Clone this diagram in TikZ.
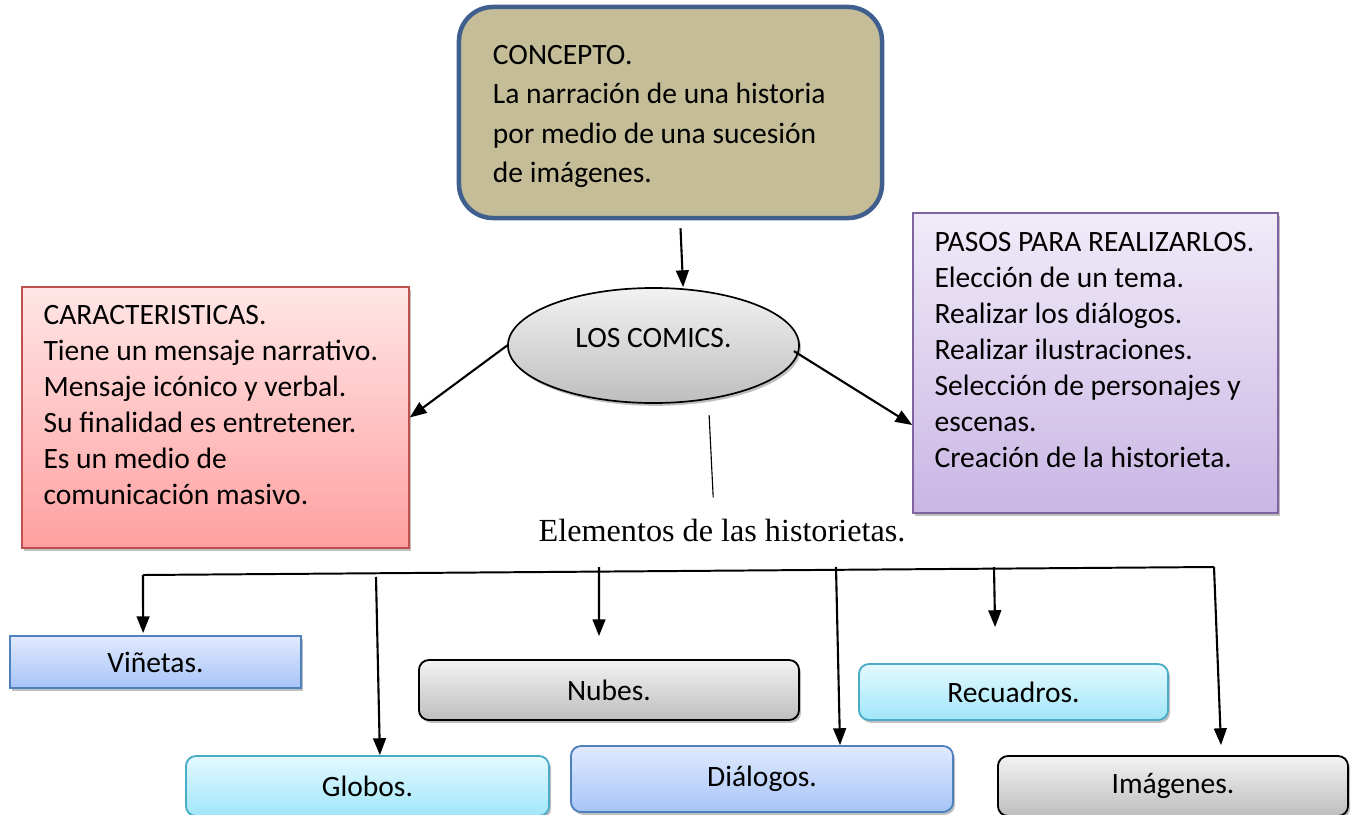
\documentclass[tikz,border=0pt]{standalone}
\usepackage{fontspec}
\setmainfont{Carlito}
\newfontfamily\elemfont{Liberation Serif}
\usepackage{xcolor}
\usepackage{tikz}
\usetikzlibrary{shapes.geometric, arrows.meta, positioning, shadows}

\definecolor{conceptfill}{RGB}{196,189,151}
\definecolor{conceptline}{RGB}{63,96,143}
\definecolor{redline}{RGB}{192,80,77}
\definecolor{redtop}{RGB}{255,230,230}
\definecolor{redbot}{RGB}{255,160,160}
\definecolor{purpleline}{RGB}{128,100,162}
\definecolor{purpletop}{RGB}{241,235,249}
\definecolor{purplebot}{RGB}{201,182,228}
\definecolor{blueline}{RGB}{79,129,189}
\definecolor{bluetop}{RGB}{224,234,255}
\definecolor{bluebot}{RGB}{167,196,247}
\definecolor{cyanline}{RGB}{75,172,198}
\definecolor{cyantop}{RGB}{228,249,255}
\definecolor{cyanbot}{RGB}{160,230,250}
\definecolor{graytop}{RGB}{242,242,242}
\definecolor{graybot}{RGB}{190,190,190}

\tikzset{
    softshadow/.style={drop shadow={shadow xshift=0.05cm, shadow yshift=-0.07cm, opacity=0.25, fill=black}},
    concept/.style={rectangle, rounded corners=0.85cm, draw=conceptline, line width=3.2pt, fill=conceptfill, minimum width=10.575cm, minimum height=5.275cm, text width=8.875cm, inner xsep=0.85cm, align=flush left, font=\fontsize{21}{28}\selectfont},
    comics/.style={ellipse, draw=black, line width=1.2pt, top color=graytop, bottom color=graybot, minimum width=7.275cm, minimum height=2.875cm, inner sep=0pt, softshadow, font=\fontsize{21}{24}\selectfont},
    sidebox/.style={rectangle, draw=#1line, line width=1pt, top color=#1top, bottom color=#1bot, softshadow},
    boxtext/.style={inner sep=0pt, anchor=north west, align=flush left, font=\fontsize{21}{25.6}\selectfont},
    item/.style={rectangle, draw=#1line, line width=1.3pt, top color=#1top, bottom color=#1bot, softshadow, inner sep=0pt, font=\fontsize{21}{24}\selectfont},
    grayitem/.style={rectangle, rounded corners=0.25cm, draw=black, line width=1.3pt, top color=graytop, bottom color=graybot, softshadow, inner sep=0pt, font=\fontsize{21}{24}\selectfont},
    arrow/.style={line width=1.5pt, -{Triangle[length=0.42cm, width=0.32cm]}},
    bar/.style={line width=1.4pt}
}

\begin{document}
\begin{tikzpicture}[x=0.025cm, y=-0.025cm]
    \path[use as bounding box] (0,0) rectangle (1357,815);

    % Concept and central topic
    \node[concept] (concepto) at (670.5,112.5) {\rule{0pt}{0.68cm}CONCEPTO.\\La narración de una historia\\por medio de una sucesión\\de imágenes.};
    \node[comics] (comics) at (653.5,345.5) {\raisebox{0.4cm}{LOS COMICS.}};

    % Side boxes
    \node[sidebox=red, minimum width=9.675cm, minimum height=6.525cm] (caract) at (215.5,417.5) {};
    \node[boxtext] (caract-text) at ([xshift=0.55cm, yshift=-0.48cm]caract.north west) {CARACTERISTICAS.\\Tiene un mensaje narrativo.\\Mensaje icónico y verbal.\\Su finalidad es entretener.\\Es un medio de\\comunicación masivo.};
    \node[sidebox=purple, minimum width=9.125cm, minimum height=7.5cm] (pasos) at (1095.5,363) {};
    \node[boxtext] (pasos-text) at ([xshift=0.55cm, yshift=-0.5cm]pasos.north west) {PASOS PARA REALIZARLOS.\\Elección de un tema.\\Realizar los diálogos.\\Realizar ilustraciones.\\Selección de personajes y\\escenas.\\Creación de la historieta.};

    \draw[arrow] ([xshift=0.25cm, yshift=-0.2cm]concepto.south) -- ([xshift=0.74cm]comics.north);
    \draw[arrow] (comics.west) -- (caract.east);
    \draw[arrow] ([xshift=-0.15cm, yshift=-0.14cm]comics.east) -- ([yshift=-1.55cm]pasos.west);

    % Elements
    \node[inner sep=0pt, font=\elemfont\fontsize{22.9}{26}\selectfont] (elementos) at (722,531) {Elementos de las historietas.};
    \draw[line width=0.8pt] ([xshift=1.39cm, yshift=-0.28cm]comics.south) -- ([xshift=-0.22cm, yshift=0.55cm]elementos.north);

    \node[item=blue, minimum width=7.275cm, minimum height=1.3cm] (vinetas) at (155.5,662) {Viñetas.};
    \node[grayitem, minimum width=9.5cm, minimum height=1.5cm] (nubes) at (609,690) {Nubes.};
    \node[item=cyan, rounded corners=0.25cm, minimum width=7.725cm, minimum height=1.4cm] (recuadros) at (1013.5,692) {Recuadros.};
    \node[item=cyan, rounded corners=0.25cm, minimum width=9.075cm, minimum height=1.5cm] (globos) at (367.5,786) {Globos.};
    \node[item=blue, rounded corners=0.25cm, minimum width=9.55cm, minimum height=1.65cm] (dialogos) at (762,779) {Diálogos.};
    \node[grayitem, minimum width=8.75cm, minimum height=1.5cm] (imagenes) at (1173,786) {Imágenes.};

    % Branches
    \coordinate (bar-l) at (143,575);
    \coordinate (bar-r) at (1214,567);
    \coordinate (to-globos) at (376,577);
    \coordinate (to-nubes) at (599,567);
    \coordinate (to-dialogos) at (836,567);
    \coordinate (to-recuadros) at (994,567);
    \draw[bar] (bar-l) -- (bar-r);
    \draw[arrow] (bar-l) -- ([xshift=-0.31cm, yshift=0.05cm]vinetas.north);
    \draw[arrow] (to-globos) -- ([xshift=0.31cm]globos.north);
    \draw[arrow] (to-nubes) -- ([xshift=-0.25cm, yshift=0.575cm]nubes.north);
    \draw[arrow] (to-dialogos) -- ([xshift=1.95cm]dialogos.north);
    \draw[arrow] (to-recuadros) -- ([xshift=-0.46cm, yshift=0.9cm]recuadros.north);
    \draw[arrow] (bar-r) -- ([xshift=1.2cm, yshift=0.25cm]imagenes.north);

\end{tikzpicture}
\end{document}
